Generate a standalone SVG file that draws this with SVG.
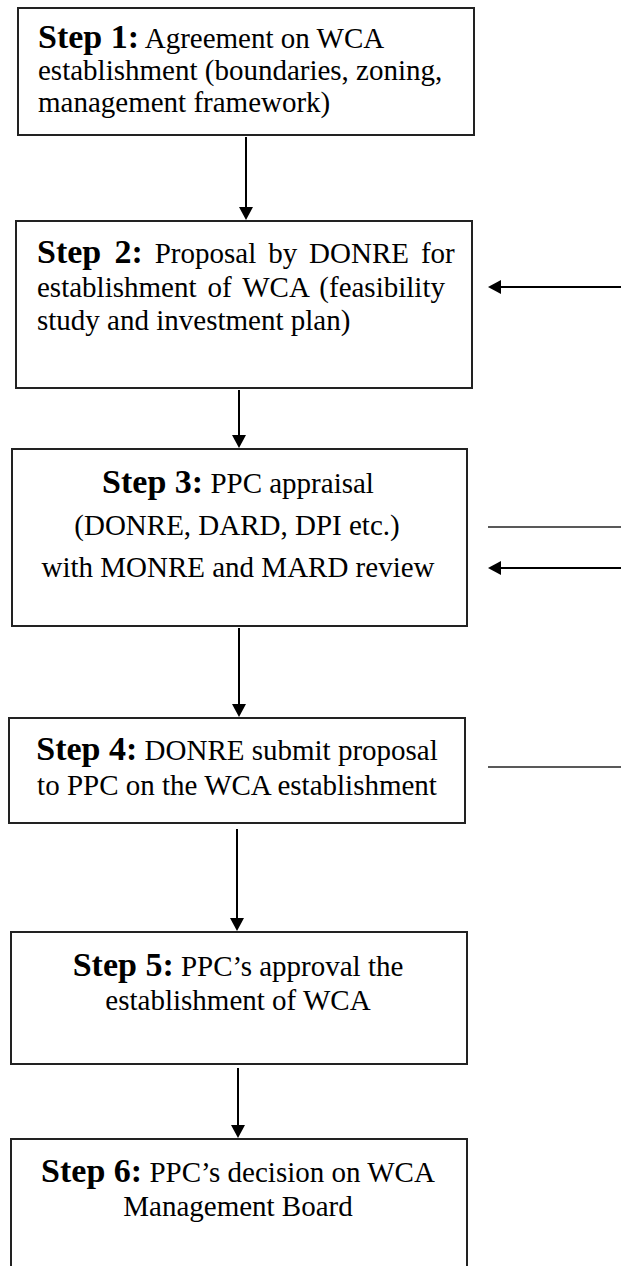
<svg xmlns="http://www.w3.org/2000/svg" width="621" height="1266" viewBox="0 0 621 1266">
<style>
.box{fill:#fff;stroke:#222;stroke-width:2}
.t{font-family:"Liberation Serif","Times New Roman",serif;font-size:29px;fill:#000}
.c{text-anchor:middle}
.lbl{font-weight:bold;font-size:34px}
.conn{stroke:#000;stroke-width:2;fill:none}
.thin{stroke:#222;stroke-width:1.3;fill:none}
</style>
<defs>
<marker id="ah" markerUnits="userSpaceOnUse" markerWidth="14" markerHeight="14" viewBox="0 0 13 14" refX="10" refY="7" orient="auto">
<path d="M0,0 L13,7 L0,14 z" fill="#000"/>
</marker>
</defs>
<rect width="621" height="1266" fill="#fff"/>
<g id="step1">
<rect class="box" x="18" y="8" width="456" height="127"/>
<text class="t" x="38" y="48"><tspan class="lbl">Step 1:</tspan> Agreement on WCA</text>
<text class="t" x="38" y="80">establishment (boundaries, zoning,</text>
<text class="t" x="38" y="112">management framework)</text>
</g>
<g id="step2">
<rect class="box" x="16" y="221" width="456" height="167"/>
<text class="t" x="37" y="263" word-spacing="4.7"><tspan class="lbl">Step 2:</tspan> Proposal by DONRE for</text>
<text class="t" x="37" y="297" word-spacing="3.8">establishment of WCA (feasibility</text>
<text class="t" x="37" y="330">study and investment plan)</text>
</g>
<g id="step3">
<rect class="box" x="12" y="449" width="455" height="177"/>
<text class="t c" x="238" y="493"><tspan class="lbl">Step 3:</tspan> PPC appraisal</text>
<text class="t c" x="237" y="535">(DONRE, DARD, DPI etc.)</text>
<text class="t c" x="238" y="577">with MONRE and MARD review</text>
</g>
<g id="step4">
<rect class="box" x="9" y="718" width="456" height="105"/>
<text class="t c" x="237" y="760"><tspan class="lbl">Step 4:</tspan> DONRE submit proposal</text>
<text class="t c" x="237" y="795">to PPC on the WCA establishment</text>
</g>
<g id="step5">
<rect class="box" x="11" y="932" width="456" height="132"/>
<text class="t c" x="238" y="976"><tspan class="lbl">Step 5:</tspan> PPC’s approval the</text>
<text class="t c" x="238" y="1010">establishment of WCA</text>
</g>
<g id="step6">
<rect class="box" x="11" y="1139" width="456" height="150"/>
<text class="t c" x="238" y="1182"><tspan class="lbl">Step 6:</tspan> PPC’s decision on WCA</text>
<text class="t c" x="238" y="1216">Management Board</text>
</g>
<g id="connectors">
<line class="conn" x1="246" y1="137" x2="246" y2="217" marker-end="url(#ah)"/>
<line class="conn" x1="239" y1="390" x2="239" y2="445" marker-end="url(#ah)"/>
<line class="conn" x1="239" y1="628" x2="239" y2="714" marker-end="url(#ah)"/>
<line class="conn" x1="237" y1="829" x2="237" y2="928" marker-end="url(#ah)"/>
<line class="conn" x1="238" y1="1068" x2="238" y2="1135" marker-end="url(#ah)"/>
<line class="conn" x1="621" y1="287" x2="491" y2="287" marker-end="url(#ah)"/>
<line class="thin" x1="488" y1="527" x2="621" y2="527"/>
<line class="conn" x1="621" y1="568" x2="491" y2="568" marker-end="url(#ah)"/>
<line class="thin" x1="488" y1="767" x2="621" y2="767"/>
</g>
</svg>
